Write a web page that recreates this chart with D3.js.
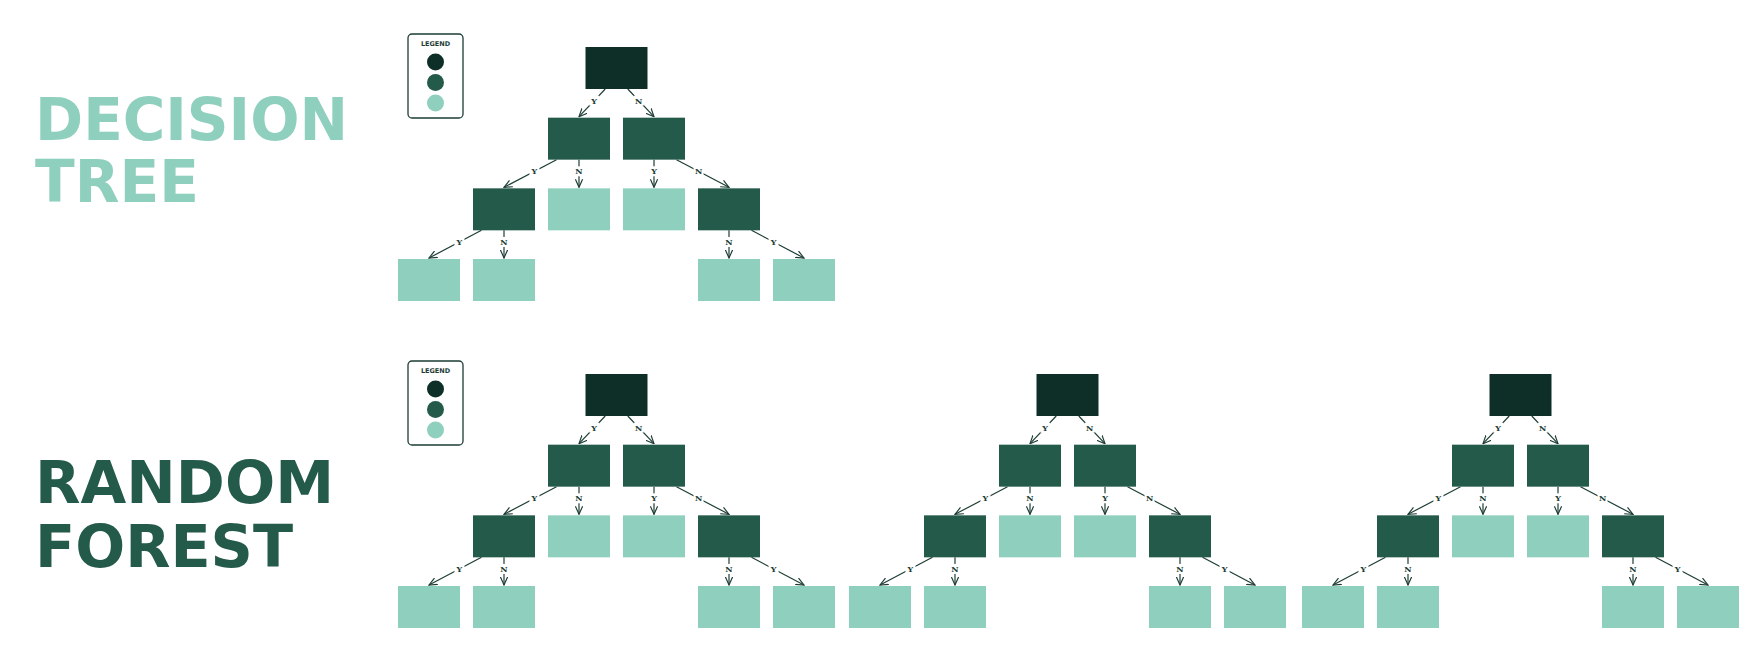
<!DOCTYPE html>
<html>
<head>
<meta charset="utf-8">
<script src="https://cdn.jsdelivr.net/npm/d3@7"></script>
<style>
  body { margin: 0; background: #fff; }
  text.title { font-family: "DejaVu Sans", sans-serif; font-weight: bold; }
  text.edge { font-family: "DejaVu Serif", serif; font-weight: bold; font-size: 8px; fill: #1d3d35; }
</style>
</head>
<body>
<script>
// node types: 0 = root, 1 = split, 2 = leaf
var nodeLevel = [0, 1, 1, 2, 2, 2, 2, 3, 3, 3, 3];
var nodeCol   = [2.5, 2, 3, 1, 2, 3, 4, 0, 1, 4, 5];
var nodeType  = [0, 1, 1, 1, 2, 2, 1, 2, 2, 2, 2];
var edgeFrom  = [0, 0, 1, 1, 2, 2, 3, 3, 6, 6];
var edgeTo    = [1, 2, 3, 4, 5, 6, 7, 8, 9, 10];
var edgeLabel = ["Y", "N", "Y", "N", "Y", "N", "Y", "N", "N", "Y"];
var typeColor = ["#0e2f28", "#245a4a", "#8fcfbd"];

// panels: title lines, title colour, tree x offsets
var panels = [
  { lines: ["DECISION", "TREE"], widths: [313, 164], base: [140, 202], color: "#8fcfbd", y: 0, trees: [0] },
  { lines: ["RANDOM", "FOREST"], widths: [299, 258], base: [176, 240], color: "#245a4a", y: 327, trees: [0, 451, 904] }
];

var W = 1750, H = 662;
var nodeW = 62, nodeH = 42;
var x = d3.scaleLinear().domain([0, 5]).range([398, 773]);
var y = d3.scaleLinear().domain([0, 3]).range([47, 259]);

var svg = d3.select("body").append("svg").attr("width", W).attr("height", H);

svg.append("defs").append("marker")
    .attr("id", "arrow")
    .attr("viewBox", "0 -5 10 10")
    .attr("refX", 9).attr("refY", 0)
    .attr("markerWidth", 9).attr("markerHeight", 9)
    .attr("markerUnits", "userSpaceOnUse")
    .attr("orient", "auto")
  .append("path")
    .attr("d", "M0,-4L9,0L0,4")
    .attr("fill", "none").attr("stroke", "#1d3d35").attr("stroke-width", 1.3);

panels.forEach(function(p) {
    var g = svg.append("g").attr("transform", "translate(0," + p.y + ")");

    // title
    p.lines.forEach(function(l, i) {
        g.append("text").attr("class", "title")
            .attr("x", 35).attr("y", p.base[i])
            .attr("font-size", 58).attr("fill", p.color)
            .attr("textLength", p.widths[i]).attr("lengthAdjust", "spacingAndGlyphs")
            .text(l);
    });

    // legend
    g.append("rect")
        .attr("x", 408).attr("y", 34).attr("width", 55).attr("height", 84)
        .attr("rx", 4).attr("fill", "none").attr("stroke", "#1d3d35").attr("stroke-width", 1.3);
    g.append("text")
        .attr("x", 435.5).attr("y", 46).attr("text-anchor", "middle")
        .attr("font-family", "DejaVu Sans").attr("font-weight", "bold")
        .attr("font-size", 6.5).attr("fill", "#1d3d35")
        .text("LEGEND");
    g.selectAll("circle.leg").data(typeColor).enter().append("circle")
        .attr("cx", 435.5)
        .attr("cy", function(d, i) { return 62 + i * 20.5; })
        .attr("r", 8.5)
        .attr("fill", function(d) { return d; });

    p.trees.forEach(function(dx) {
        var t = g.append("g").attr("transform", "translate(" + dx + ",0)");

        // edges
        edgeFrom.forEach(function(a, i) {
            var b = edgeTo[i];
            var pcx = x(nodeCol[a]) + nodeW / 2, ccx = x(nodeCol[b]) + nodeW / 2;
            var x1 = pcx + (ccx - pcx) * 0.3, y1 = y(nodeLevel[a]) + nodeH;
            var x2 = ccx, y2 = y(nodeLevel[b]) - 1;
            t.append("line")
                .attr("x1", x1).attr("y1", y1).attr("x2", x2).attr("y2", y2)
                .attr("stroke", "#1d3d35").attr("stroke-width", 1.2)
                .attr("marker-end", "url(#arrow)");
            var mx = x1 + (x2 - x1) * 0.42, my = y1 + (y2 - y1) * 0.42;
            t.append("rect")
                .attr("x", mx - 5).attr("y", my - 5).attr("width", 10).attr("height", 10)
                .attr("fill", "#fff");
            t.append("text").attr("class", "edge")
                .attr("x", mx).attr("y", my + 3).attr("text-anchor", "middle")
                .text(edgeLabel[i]);
        });

        // nodes
        t.selectAll("rect.node").data(nodeLevel).enter().append("rect")
            .attr("class", "node")
            .attr("x", function(d, i) { return x(nodeCol[i]); })
            .attr("y", function(d) { return y(d); })
            .attr("width", nodeW).attr("height", nodeH)
            .attr("fill", function(d, i) { return typeColor[nodeType[i]]; });
    });
});
</script>
</body>
</html>
